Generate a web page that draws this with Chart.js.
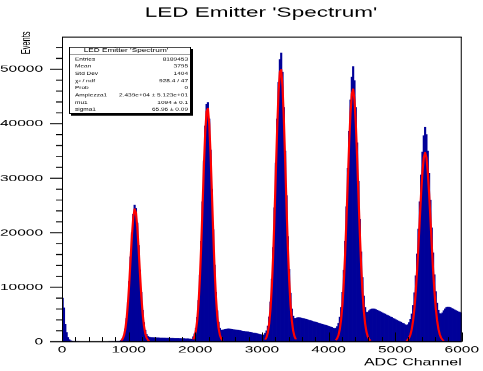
<!DOCTYPE html>
<html>
<head>
<meta charset="utf-8">
<script src="https://cdn.jsdelivr.net/npm/chart.js@4.4.1/dist/chart.umd.min.js"></script>
<style>
  html, body { margin: 0; padding: 0; background: #fff; overflow: hidden; }
  /* the canvas is drawn tall and squeezed to 371px, which gives the wide lettering */
  #spectrum { display: block; transform: scaleY(0.6183); transform-origin: 0 0; }
</style>
</head>
<body>
<canvas id="spectrum" width="483" height="600"></canvas>
<script>
const FONT = "'Liberation Sans', Arial, sans-serif";

// ADC histogram: 300 bins of 20 channels, listed region by region
const binWidth = 20;
const pedestal = [8000, 6200, 3200, 1700, 800, 400, 200, 120];
const gapLow = [80, 60, 50, 40, 40, 30, 30, 30, 30, 30, 30, 30, 30, 30, 30, 30, 30, 30,
  30, 30, 30, 30, 30, 30, 30, 30, 30, 40, 40, 40, 50, 50, 60, 70, 90, 130];
const peak1 = [260, 560, 1180, 2350, 4300, 7200, 11100, 15600, 20000, 23400, 25100,
  24500, 21800, 17700, 13200, 9100, 5800, 3500, 2100, 1350, 1000, 850];
const tail1 = [780, 770, 760, 750, 740, 730, 720, 710, 700, 690, 680, 670, 660, 650,
  640, 630, 620, 610, 600, 595, 590, 580, 570, 560, 555, 550, 540, 530, 520, 510, 500, 490];
const peak2 = [900, 1450, 2500, 4450, 7600, 12200, 18400, 25700, 33200, 39600, 43600,
  43900, 40900, 35200, 28000, 20600, 14100, 9100, 5700, 3600, 2500, 2100, 2150];
const tail2 = [2200, 2300, 2330, 2350, 2340, 2310, 2280, 2240, 2200, 2160, 2120, 2080,
  2040, 2000, 1960, 1920, 1880, 1840, 1800, 1760, 1720, 1670, 1620, 1570, 1520, 1470,
  1410, 1350, 1300, 1250, 1250];
const peak3 = [1550, 2000, 2900, 4550, 7300, 11500, 17300, 24600, 32800, 40900, 47600,
  51800, 53000, 49500, 43000, 35000, 26800, 19300, 13300, 8900, 6000, 4700, 4300, 4300];
const tail3 = [4380, 4420, 4400, 4350, 4300, 4240, 4170, 4100, 4030, 3950, 3880, 3800,
  3720, 3650, 3570, 3500, 3420, 3350, 3270, 3200, 3120, 3050, 2970, 2900, 2820, 2720,
  2620, 2520, 2430];
const peak4 = [2500, 2800, 3400, 4500, 6300, 9100, 13100, 18400, 24800, 31800, 38600,
  44400, 48600, 50500, 47900, 43000, 36500, 29400, 22500, 16500, 11800, 8400, 6300,
  5400, 5400, 5700, 5900];
const tail4 = [6000, 6050, 6000, 5900, 5800, 5680, 5560, 5440, 5310, 5190, 5060, 4940,
  4810, 4690, 4560, 4440, 4310, 4190, 4060, 3940, 3810, 3690, 3560, 3440, 3310, 3150];
const peak5 = [3000, 3150, 3500, 4100, 5100, 6700, 9000, 12100, 16100, 20700, 25700,
  30600, 34800, 37800, 39400, 38000, 35000, 30900, 26000, 20900, 16300, 12300, 9200,
  7100, 5800, 5200, 5100, 5300, 5700];
const tail5 = [6050, 6300, 6380, 6350, 6250, 6120, 6000, 5870, 5750, 5620, 5500, 5400, 5300];

const counts = [].concat(pedestal, gapLow, peak1, tail1, peak2, tail2,
  peak3, tail3, peak4, tail4, peak5, tail5);

// gaussian fits, one value per bin centre, starting at the given centre
const fitFirstCentre = [890, 1970, 3050, 4110, 5170];
const fit1 = [205, 500, 1113, 2259, 4176, 7046, 10850, 15244, 19534, 22829, 24346,
  23683, 21017, 17017, 12568, 8466, 5203, 2920, 1493, 697, 297, 115];
const fit2 = [420, 961, 2028, 3943, 7073, 11684, 17785, 24957, 32276, 38481, 42265,
  42786, 39917, 34323, 27202, 19862, 13360, 8299, 4743, 2498, 1213, 542, 224];
const fit3 = [368, 828, 1732, 3369, 6085, 10226, 15959, 23177, 31280, 39211, 45717,
  49547, 49909, 46731, 40677, 32911, 24754, 17304, 11245, 6792, 3815, 1988, 964, 437];
const fit4 = [277, 599, 1213, 2307, 4125, 6932, 10937, 16217, 22586, 29546, 36317,
  41930, 45481, 46342, 44358, 39884, 33692, 26745, 19933, 13957, 9183, 5675, 3294,
  1796, 919, 443, 201];
const fit5 = [173, 360, 707, 1316, 2321, 3883, 6152, 9223, 13113, 17648, 22517, 27205,
  31143, 33774, 34700, 33774, 31143, 27205, 22517, 17648, 13113, 9223, 6152, 3883,
  2321, 1316, 707, 360, 173];

const xTicks = [0, 1000, 2000, 3000, 4000, 5000, 6000];
const yTicks = [0, 10000, 20000, 30000, 40000, 50000];
const xRange = [0, 6000];
const yRange = [0, 55900];

const statsTitle = "LED Emitter 'Spectrum'";
const statsNames = ['Entries', 'Mean', 'Std Dev', 'χ² / ndf', 'Prob', 'Ampiezza1', 'mu1', 'sigma1'];
const statsValues = ['8189453', '3795', '1404', '928.4 / 47', '0', '2.439e+04 ± 5.123e+01', '1094 ± 0.1', '65.96 ± 0.09'];

const histDataset = {
  type: 'bar',
  data: counts.map((v, i) => ({ x: (i + 0.5) * binWidth, y: v })),
  backgroundColor: '#000099',
  borderWidth: 0,
  barPercentage: 1,
  categoryPercentage: 1,
  inflateAmount: 0.4,
  order: 2
};

const fitDatasets = [fit1, fit2, fit3, fit4, fit5].map((f, i) => ({
  type: 'line',
  data: f.map((v, j) => ({ x: fitFirstCentre[i] + j * binWidth, y: v })),
  borderColor: '#ff0000',
  borderWidth: 2.2,
  borderJoinStyle: 'round',
  pointRadius: 0,
  tension: 0,
  fill: false,
  order: 1
}));

const frameAndTicks = {
  id: 'frameAndTicks',
  afterDatasetsDraw(chart) {
    const { ctx, chartArea: a, scales: { x, y } } = chart;
    ctx.save();
    ctx.strokeStyle = '#000';
    ctx.lineWidth = 1;
    ctx.beginPath();
    ctx.moveTo(a.left + 0.5, a.top);
    ctx.lineTo(a.left + 0.5, a.bottom);
    ctx.moveTo(a.right - 0.5, a.top);
    ctx.lineTo(a.right - 0.5, a.bottom);
    ctx.stroke();
    ctx.lineWidth = 1.6;
    ctx.beginPath();
    ctx.moveTo(a.left, a.top);
    ctx.lineTo(a.right, a.top);
    ctx.moveTo(a.left, a.bottom);
    ctx.lineTo(a.right, a.bottom);
    ctx.stroke();

    // x ticks point up into the frame, every 200 channels
    ctx.lineWidth = 1;
    ctx.beginPath();
    for (let v = xRange[0]; v <= xRange[1]; v += 200) {
      const px = Math.round(x.getPixelForValue(v)) + 0.5;
      const len = v % 1000 === 0 ? 15 : 7.5;
      ctx.moveTo(px, a.bottom);
      ctx.lineTo(px, a.bottom - len);
    }
    ctx.stroke();

    // y ticks point out to the left, every 2000 events
    ctx.lineWidth = 1.6;
    ctx.beginPath();
    for (let v = yRange[0]; v <= yRange[1]; v += 2000) {
      const py = y.getPixelForValue(v);
      const len = v % 10000 === 0 ? 12 : 6;
      ctx.moveTo(a.left, py);
      ctx.lineTo(a.left - len, py);
    }
    ctx.stroke();
    ctx.restore();
  }
};

const textLayer = {
  id: 'textLayer',
  afterDraw(chart) {
    const { ctx } = chart;
    ctx.save();
    ctx.fillStyle = '#000';

    // histogram title
    ctx.font = '22.5px ' + FONT;
    ctx.textAlign = 'center';
    ctx.textBaseline = 'middle';
    ctx.fillText("LED Emitter 'Spectrum'", 261, 21);

    // y axis title, right-aligned to the top
    ctx.save();
    ctx.translate(27, 51);
    ctx.rotate(-Math.PI / 2);
    ctx.font = '12px ' + FONT;
    ctx.textAlign = 'right';
    ctx.fillText('Events', 0, 0);
    ctx.restore();

    // stats box
    const bx = 69, by = 76, bw = 122, bh = 108;
    ctx.fillStyle = '#000';
    ctx.fillRect(bx + 2, by + 3, bw, bh);
    ctx.fillStyle = '#fff';
    ctx.fillRect(bx, by, bw, bh);
    ctx.strokeStyle = '#000';
    ctx.lineWidth = 1;
    ctx.strokeRect(bx + 0.5, by + 0.5, bw - 1, bh - 1);
    ctx.beginPath();
    ctx.moveTo(bx, by + 11.5);
    ctx.lineTo(bx + bw, by + 11.5);
    ctx.stroke();

    ctx.fillStyle = '#000';
    ctx.font = '8.2px ' + FONT;
    ctx.textAlign = 'center';
    ctx.fillText(statsTitle, bx + bw / 2 - 4, by + 6);
    ctx.font = '6.5px ' + FONT;
    statsNames.forEach((name, i) => {
      const ry = by + 20 + i * 11.64;
      ctx.textAlign = 'left';
      ctx.fillText(name, bx + 6, ry);
      ctx.textAlign = 'right';
      ctx.fillText(statsValues[i], bx + bw - 3, ry);
    });
    ctx.restore();
  }
};

new Chart(document.getElementById('spectrum'), {
  type: 'bar',
  data: { datasets: [histDataset, ...fitDatasets] },
  options: {
    responsive: false,
    animation: false,
    devicePixelRatio: 1,
    layout: { padding: { top: 60, right: 17, left: 0, bottom: 0 } },
    plugins: {
      legend: { display: false },
      tooltip: { enabled: false },
      title: { display: false }
    },
    scales: {
      x: {
        type: 'linear',
        offset: false,
        min: xRange[0],
        max: xRange[1],
        afterBuildTicks: s => { s.ticks = xTicks.map(v => ({ value: v })); },
        afterFit: s => { s.height = 47.4; },
        grid: { display: false, drawTicks: false, offset: false },
        border: { display: false },
        ticks: {
          padding: 4,
          maxRotation: 0,
          color: '#000',
          font: { family: FONT, size: 15.5 },
          callback: v => String(v)
        },
        title: {
          display: true,
          text: 'ADC Channel',
          align: 'end',
          color: '#000',
          font: { family: FONT, size: 16 },
          padding: { top: 0, bottom: 3.8 }
        }
      },
      y: {
        type: 'linear',
        min: yRange[0],
        max: yRange[1],
        afterBuildTicks: s => { s.ticks = yTicks.map(v => ({ value: v })); },
        afterFit: s => { s.width = 62; },
        grid: { display: false, drawTicks: false },
        border: { display: false },
        ticks: {
          padding: 19,
          color: '#000',
          font: { family: FONT, size: 15.5 },
          callback: v => String(v)
        }
      }
    }
  },
  plugins: [frameAndTicks, textLayer]
});
</script>
</body>
</html>
